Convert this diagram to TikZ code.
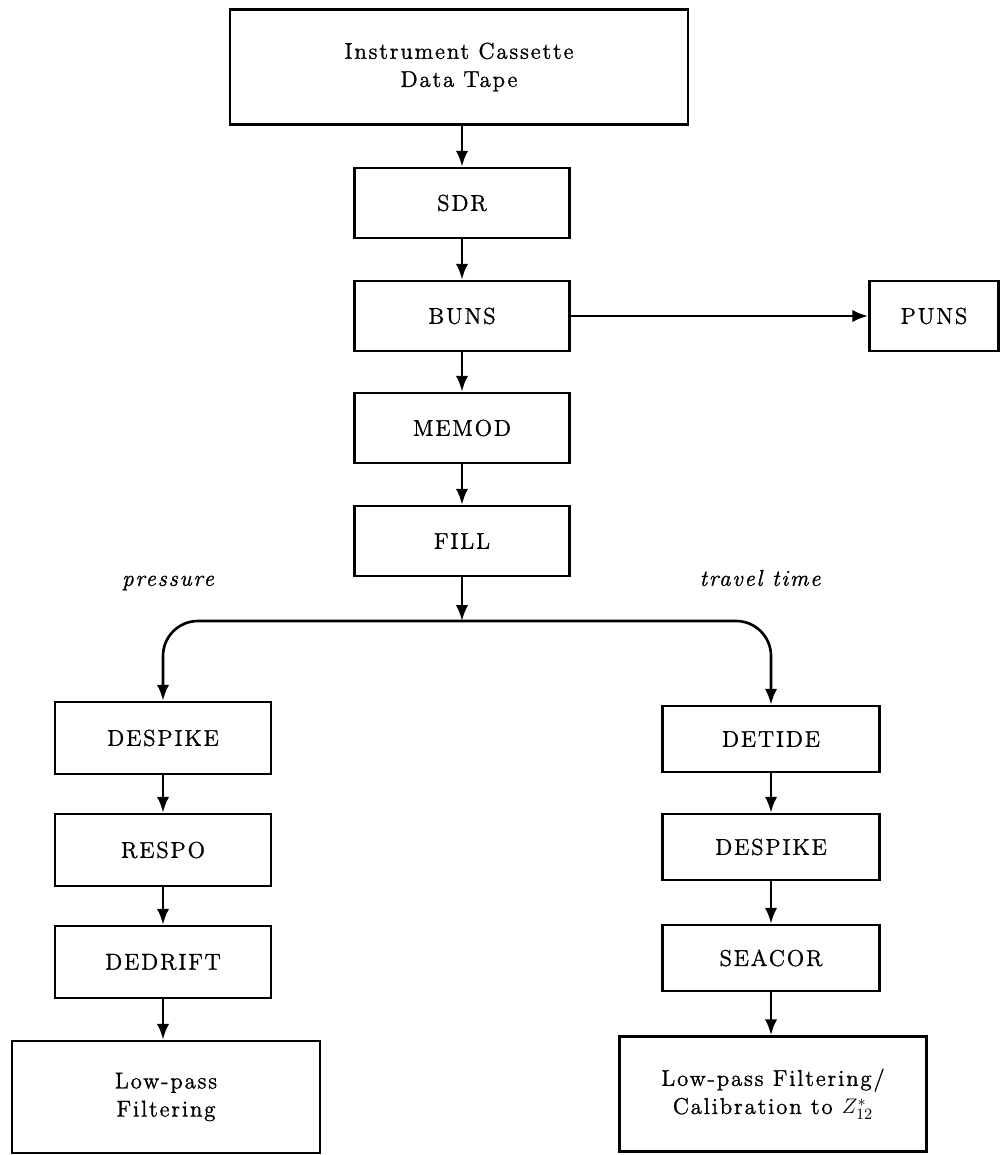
\documentclass[tikz,border=0pt]{standalone}
\usepackage{fontspec}
\setmainfont{Latin Modern Roman}[LetterSpace=8, FakeBold=1.2]
\usetikzlibrary{arrows.meta, positioning}

\begin{document}
\begin{tikzpicture}
    [
        x=0.2mm, y=-0.2mm,
        every node/.style={font=\fontsize{13}{16}\selectfont},
        stage/.style={rectangle, draw=black, line width=1.5pt, minimum width=4.3cm, minimum height=1.4cm, inner sep=0pt},
        bigstage/.style={rectangle, draw=black, line width=1.5pt, align=center, inner sep=0pt},
        flow/.style={line width=1.5pt, -{Latex[length=9pt, width=7pt]}},
        branch/.style={font=\fontsize{13}{16}\selectfont\itshape},
    ]
    \useasboundingbox (0,0) rectangle (1001,1155);

    \node (tape) at (459,67) [bigstage, minimum width=9.16cm, minimum height=2.3cm] {Instrument Cassette\\Data Tape};
    \node (sdr) at (462,203) [stage] {SDR};
    \node (buns) at (462,316) [stage] {BUNS};
    \node (puns) at (934,316) [stage, minimum width=2.58cm] {PUNS};
    \node (memod) at (462,428) [stage] {MEMOD};
    \node (fill) at (462,541) [stage] {FILL};
    \coordinate (split) at (462,621);

    \node (pressure) at (168,583) [branch] {pressure};
    \node (travel) at (760,578) [branch] {travel time};

    \node (despikeP) at (163,738) [stage, minimum width=4.32cm, minimum height=1.44cm] {DESPIKE};
    \node (respo) at (163,850) [stage, minimum width=4.32cm, minimum height=1.44cm] {RESPO};
    \node (dedrift) at (163,962) [stage, minimum width=4.32cm, minimum height=1.44cm] {DEDRIFT};
    \node (lowpassP) at (166,1097) [bigstage, minimum width=6.16cm, minimum height=2.24cm] {Low-pass\\Filtering};

    \node (detide) at (771,739) [stage, minimum width=4.34cm, minimum height=1.32cm] {DETIDE};
    \node (despikeT) at (771,847) [stage, minimum width=4.34cm, minimum height=1.32cm] {DESPIKE};
    \node (seacor) at (771,958) [stage, minimum width=4.34cm, minimum height=1.32cm] {SEACOR};
    \node (lowpassT) at (773,1094) [bigstage, minimum width=6.14cm, minimum height=2.3cm] {Low-pass Filtering/\\Calibration to $Z^{*}_{12}$};

    \draw[flow] (tape.south -| sdr) -- (sdr);
    \draw[flow] (sdr) -- (buns);
    \draw[flow] (buns) -- (memod);
    \draw[flow] (memod) -- (fill);
    \draw[flow] (buns) -- (puns);
    \draw[flow] (fill) -- (split);
    \draw[flow, rounded corners=0.7cm] (split) -| (despikeP);
    \draw[flow, rounded corners=0.7cm] (split) -| (detide);

    \draw[flow] (despikeP) -- (respo);
    \draw[flow] (respo) -- (dedrift);
    \draw[flow] (dedrift.south) -- (dedrift.south |- lowpassP.north);

    \draw[flow] (detide) -- (despikeT);
    \draw[flow] (despikeT) -- (seacor);
    \draw[flow] (seacor.south) -- (seacor.south |- lowpassT.north);
\end{tikzpicture}
\end{document}
